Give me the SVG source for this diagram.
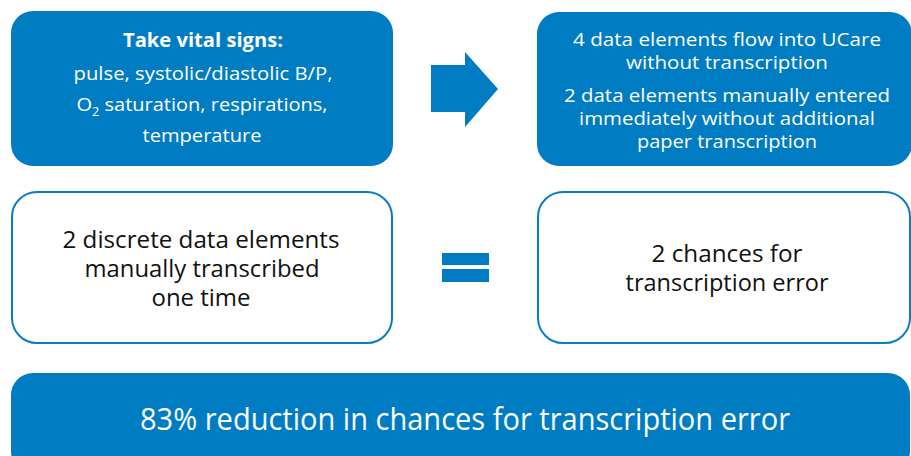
<svg xmlns="http://www.w3.org/2000/svg" width="911" height="456" viewBox="0 0 911 456">
<style>
.fill{fill:#007cc3}
.out{fill:#ffffff;stroke:#0a7dc4;stroke-width:2}
text{font-family:"Open Sans","Noto Sans",sans-serif;text-anchor:middle}
.w{fill:#ffffff}
.d{fill:#111111}
</style>
<rect width="911" height="456" fill="#ffffff"/>
<g id="vital-signs">
<rect class="fill" x="11" y="11" width="382" height="155" rx="22"/>
<text class="w" x="203" y="47" font-size="19" font-weight="bold" textLength="160" lengthAdjust="spacingAndGlyphs">Take vital signs:</text>
<text class="w" x="203" y="80" font-size="19" textLength="259" lengthAdjust="spacingAndGlyphs">pulse, systolic/diastolic B/P,</text>
<text class="w" x="202" y="111" font-size="19" textLength="251" lengthAdjust="spacingAndGlyphs">O<tspan font-size="12" dy="5">2</tspan><tspan dy="-5"> saturation, respirations,</tspan></text>
<text class="w" x="202" y="142" font-size="19" textLength="119" lengthAdjust="spacingAndGlyphs">temperature</text>
</g>
<g id="ucare">
<rect class="fill" x="537" y="12" width="375" height="154" rx="22"/>
<text class="w" x="727" y="46" font-size="17.5" textLength="308" lengthAdjust="spacingAndGlyphs">4 data elements flow into UCare</text>
<text class="w" x="727" y="69" font-size="17.5" textLength="202" lengthAdjust="spacingAndGlyphs">without transcription</text>
<text class="w" x="727" y="102" font-size="17.5" textLength="326" lengthAdjust="spacingAndGlyphs">2 data elements manually entered</text>
<text class="w" x="727" y="125" font-size="17.5" textLength="296" lengthAdjust="spacingAndGlyphs">immediately without additional</text>
<text class="w" x="727" y="148" font-size="17.5" textLength="180" lengthAdjust="spacingAndGlyphs">paper transcription</text>
</g>
<g id="manual">
<rect class="out" x="12" y="192" width="380" height="151" rx="25"/>
<text class="d" x="201" y="248" font-size="23" textLength="277" lengthAdjust="spacingAndGlyphs">2 discrete data elements</text>
<text class="d" x="202" y="277" font-size="23" textLength="235" lengthAdjust="spacingAndGlyphs">manually transcribed</text>
<text class="d" x="201" y="306" font-size="23" textLength="99" lengthAdjust="spacingAndGlyphs">one time</text>
</g>
<g id="chances">
<rect class="out" x="538" y="192" width="372" height="151" rx="25"/>
<text class="d" x="727" y="262" font-size="23" textLength="151" lengthAdjust="spacingAndGlyphs">2 chances for</text>
<text class="d" x="727" y="291" font-size="23" textLength="203" lengthAdjust="spacingAndGlyphs">transcription error</text>
</g>
<g id="reduction">
<rect class="fill" x="11" y="373" width="899" height="100" rx="22"/>
<text class="w" x="465" y="430" font-size="31" textLength="650" lengthAdjust="spacingAndGlyphs">83% reduction in chances for transcription error</text>
</g>
<g id="connectors">
<polygon class="fill" points="431,65 465,65 465,52 498,89 465,127 465,112 431,112"/>
<rect class="fill" x="442" y="253" width="47" height="12"/>
<rect class="fill" x="442" y="269" width="47" height="13"/>
</g>
</svg>
